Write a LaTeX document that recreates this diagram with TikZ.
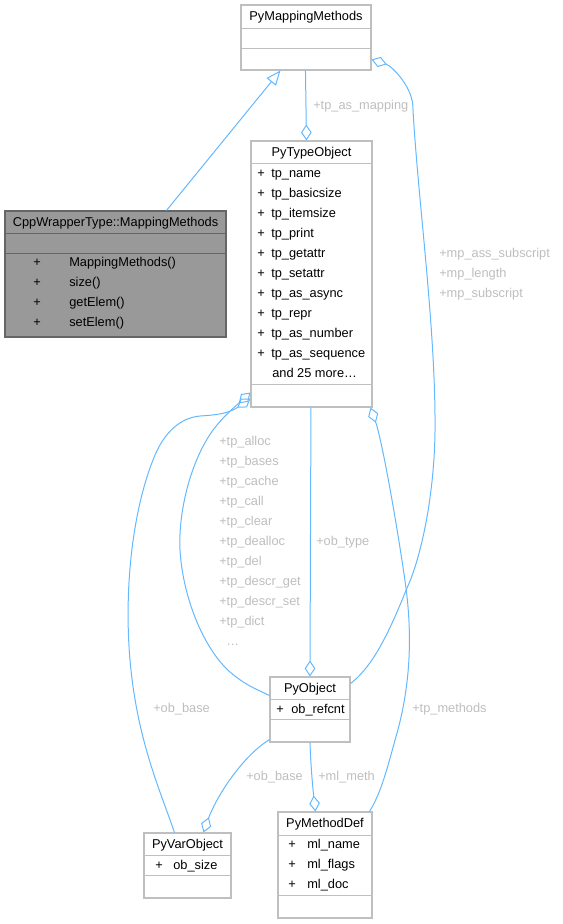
\documentclass[tikz,border=0pt]{standalone}
\usepackage{fontspec}
\setmainfont{Liberation Sans}
\usepackage{xcolor}
\usetikzlibrary{calc,positioning,fit,arrows.meta}
\definecolor{edgeblue}{HTML}{63B8FF}
\definecolor{boxgray}{HTML}{BFBFBF}
\definecolor{labelgray}{HTML}{BEBEBE}
\definecolor{cppfill}{HTML}{999999}
\definecolor{cppline}{HTML}{666666}

\begin{document}
\begin{tikzpicture}[x=0.75pt, y=-0.75pt, font=\fontsize{9.6}{11.5}\selectfont,
    cls/.style={draw=boxgray, line width=0.8pt, fill=white, inner sep=0pt},
    sepline/.style={draw=boxgray, line width=0.8pt},
    txt/.style={anchor=mid, inner sep=0pt},
    member/.style={anchor=mid west, inner sep=0pt},
    rel/.style={draw=edgeblue, line width=0.75pt},
    agg/.style={rel, {Diamond[open, length=12pt, width=8pt]}-},
    inherit/.style={rel, -{Triangle[open, length=11pt, width=9pt]}},
    lbl/.style={anchor=mid west, inner sep=0pt, text=labelgray}]

    \useasboundingbox (0,0) rectangle (563,924);

    % PyMappingMethods
    \node[cls, fit={(241,5) (371,70)}] (pmm) {};
    \node[txt] (pmmt) at (306,17) {PyMappingMethods};
    \draw[sepline] ($(pmm.north west)+(0,24)$) -- ($(pmm.north east)+(0,24)$);
    \draw[sepline] ($(pmm.north west)+(0,44)$) -- ($(pmm.north east)+(0,44)$);

    % CppWrapperType::MappingMethods
    \node[cls, draw=cppline, fill=cppfill, fit={(5,211) (226,337)}] (cpp) {};
    \node[txt] (cppt) at (115.5,222.5) {CppWrapperType::MappingMethods};
    \draw[sepline, draw=cppline] ($(cpp.north west)+(0,23)$) -- ($(cpp.north east)+(0,23)$);
    \draw[sepline, draw=cppline] ($(cpp.north west)+(0,43)$) -- ($(cpp.north east)+(0,43)$);
    \foreach \m [count=\i] in {MappingMethods(), size(), getElem(), setElem()} {
        \node[txt] at (37,243+20*\i) {+};
        \node[member] at (69,243+20*\i) {\m};
    }

    % PyTypeObject
    \node[cls, fit={(251,141) (372,407)}] (pto) {};
    \node[txt] (ptot) at (311.5,152.5) {PyTypeObject};
    \draw[sepline] ($(pto.north west)+(0,23)$) -- ($(pto.north east)+(0,23)$);
    \draw[sepline] ($(pto.north west)+(0,244)$) -- ($(pto.north east)+(0,244)$);
    \foreach \m [count=\i] in {tp\_name, tp\_basicsize, tp\_itemsize, tp\_print, tp\_getattr,
        tp\_setattr, tp\_as\_async, tp\_repr, tp\_as\_number, tp\_as\_sequence} {
        \node[txt] at (261,154+20*\i) {+};
        \node[member] at (271,154+20*\i) {\m};
    }
    \node[member] at (272,374) {and 25 more\ldots};

    % PyObject
    \node[cls, fit={(270,677) (350,742)}] (pyo) {};
    \node[txt] (pyot) at (310,688.5) {PyObject};
    \draw[sepline] ($(pyo.north west)+(0,23)$) -- ($(pyo.north east)+(0,23)$);
    \draw[sepline] ($(pyo.north west)+(0,43)$) -- ($(pyo.north east)+(0,43)$);
    \node[txt] at (280,709.5) {+};
    \node[member] at (291,709.5) {ob\_refcnt};

    % PyVarObject
    \node[cls, fit={(144,833) (231,898)}] (pvo) {};
    \node[txt] (pvot) at (187.5,844.5) {PyVarObject};
    \draw[sepline] ($(pvo.north west)+(0,23)$) -- ($(pvo.north east)+(0,23)$);
    \draw[sepline] ($(pvo.north west)+(0,43)$) -- ($(pvo.north east)+(0,43)$);
    \node[txt] at (159,865.5) {+};
    \node[member] at (173,865.5) {ob\_size};

    % PyMethodDef
    \node[cls, fit={(278,812) (372,918)}] (pmd) {};
    \node[txt] (pmdt) at (325,824) {PyMethodDef};
    \draw[sepline] ($(pmd.north west)+(0,24)$) -- ($(pmd.north east)+(0,24)$);
    \draw[sepline] ($(pmd.north west)+(0,84)$) -- ($(pmd.north east)+(0,84)$);
    \foreach \m [count=\i] in {ml\_name, ml\_flags, ml\_doc} {
        \node[txt] at (292,825+20*\i) {+};
        \node[member] at (307,825+20*\i) {\m};
    }

    % Connections
    \draw[inherit] ($(cpp.north west)+(162,0)$) -- ($(pmm.south west)+(40,0)$);

    \draw[agg] ($(pto.north west)+(56,0)$) -- ($(pmm.south west)+(65,0)$);
    \node[lbl] at (313,106) {+tp\_as\_mapping};

    \draw[agg] ($(pmm.south east)+(0,-11)$) .. controls (392,66) and (414,88) .. (413,110)
        .. controls (418,200) and (436,330) .. (435,432)
        .. controls (434,500) and (420,560) .. (407,588)
        .. controls (392,625) and (375,665) .. ($(pyo.north east)+(0,7)$);
    \foreach \l [count=\i] in {+mp\_ass\_subscript, +mp\_length, +mp\_subscript}
        \node[lbl] at (439,234+20*\i) {\l};

    \draw[agg] ($(pyo.north west)+(40.5,0)$) -- ($(pto.south west)+(60.5,0)$);
    \node[lbl] at (316,541.5) {+ob\_type};

    \draw[agg] ($(pto.south west)+(0,-15)$) .. controls (238,404) and (226,414) .. (217,425)
        .. controls (192,455) and (178,510) .. (180,550)
        .. controls (183,600) and (205,650) .. (230,672)
        .. controls (245,685) and (258,690) .. ($(pyo.north west)+(0,19)$);
    \foreach \l [count=\i] in {+tp\_alloc, +tp\_bases, +tp\_cache, +tp\_call, +tp\_clear,
        +tp\_dealloc, +tp\_del, +tp\_descr\_get, +tp\_descr\_set, +tp\_dict}
        \node[lbl] at (219,422+20*\i) {\l};
    \node[lbl] at (226,642) {\ldots};

    \draw[agg] ($(pto.south west)+(0,-9)$) .. controls (228,414) and (215,415) .. (200,416)
        .. controls (180,418) and (165,432) .. (155,455)
        .. controls (132,510) and (124,590) .. (130,660)
        .. controls (137,740) and (160,790) .. ($(pvo.north west)+(31,0)$);
    \node[lbl] at (153,709) {+ob\_base};

    \draw[agg] ($(pvo.north west)+(60,0)$) .. controls (215,800) and (240,758) .. ($(pyo.south west)+(0,-3)$);
    \node[lbl] at (246,777) {+ob\_base};

    \draw[agg] ($(pmd.north west)+(38,0)$) .. controls (313,790) and (311,770) .. ($(pyo.south west)+(40.5,0)$);
    \node[lbl] at (318,777) {+ml\_meth};

    \draw[agg] ($(pto.south east)+(-2,0)$) .. controls (382,440) and (398,530) .. (406,588)
        .. controls (414,650) and (407,700) .. (395,740)
        .. controls (387,770) and (380,795) .. ($(pmd.north east)+(-3,0)$);
    \node[lbl] at (412,709) {+tp\_methods};
\end{tikzpicture}
\end{document}
